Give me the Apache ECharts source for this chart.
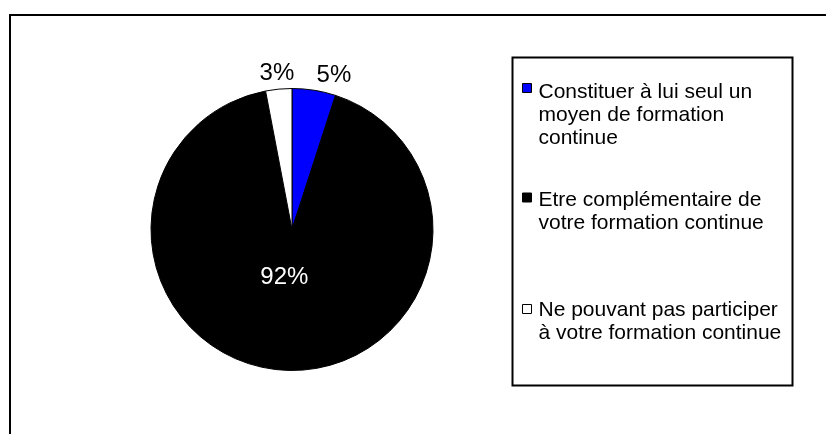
<!DOCTYPE html>
<html lang="fr">
<head>
    <meta charset="UTF-8">
    <title>Formation continue</title>
    <script src="https://cdn.jsdelivr.net/npm/echarts@6/dist/echarts.min.js"></script>
    <style>
        body {
            margin: 0;
            padding: 0;
            background: #fff;
            overflow: hidden;
        }
        #frame {
            position: absolute;
            left: 9px;
            top: 14px;
            width: 830px;
            height: 430px;
            border-left: 2px solid #000;
            border-top: 2px solid #000;
        }
        #chart {
            position: absolute;
            left: 0;
            top: 0;
            width: 826px;
            height: 434px;
        }
    </style>
</head>
<body>
<div id="frame"></div>
<div id="chart"></div>
<script>
    // categories (full names) and the way they break in the legend
    const categories = [
        'Constituer à lui seul un moyen de formation continue',
        'Etre complémentaire de votre formation continue',
        'Ne pouvant pas participer à votre formation continue'
    ]
    const legendLines = [
        ['Constituer à lui seul un', 'moyen de formation', 'continue'],
        ['Etre complémentaire de', 'votre formation continue'],
        ['Ne pouvant pas participer', 'à votre formation continue']
    ]
    // percentages
    const values = [5, 92, 3]
    const colors = ['#0000ff', '#000000', '#ffffff']

    // layout tweaks (pixels)
    const labelShift = [[-5, 1], [-3, -25], [22, 0]]
    const markerY = [88, 197.5, 309]   // centre of each legend marker
    const textDrop = [4.5, 2.5, 1]     // first text line sits this much lower than the marker

    const FONT = "'Liberation Sans', Arial, sans-serif"
    const LINE_H = 23

    function buildLegends() {
        return categories.map(function (name, i) {
            const n = legendLines[i].length
            // legend text is centred on the marker: an invisible spacer line on top
            // pushes the first real line down next to the marker
            const spacer = (n - 1) * LINE_H + 2 * textDrop[i]
            const h = n * LINE_H + spacer
            return {
                orient: 'vertical',
                left: 522,
                top: markerY[i] - h / 2,
                padding: 0,
                itemWidth: 9,
                itemHeight: 9,
                icon: 'rect',
                itemStyle: { borderColor: '#000', borderWidth: 1 },
                selectedMode: false,
                data: [name],
                formatter: function (nm) {
                    const lines = legendLines[categories.indexOf(nm)]
                    return '{s| }\n' + lines.map(function (t) { return '{t|' + t + '}' }).join('\n')
                },
                textStyle: {
                    fontFamily: FONT,
                    fontSize: 21,
                    lineHeight: LINE_H,
                    color: '#000',
                    rich: {
                        s: { fontSize: 2, lineHeight: spacer, height: spacer },
                        t: {
                            fontFamily: FONT,
                            fontSize: 21,
                            lineHeight: LINE_H,
                            padding: [0, 0, 0, 2],
                            color: '#000'
                        }
                    }
                }
            }
        })
    }

    function buildOption() {
        const pieData = categories.map(function (name, i) {
            const inside = i === 1
            return {
                name: name,
                value: values[i],
                itemStyle: { color: colors[i] },
                label: {
                    position: inside ? 'inside' : 'outside',
                    color: inside ? '#fff' : '#000'
                }
            }
        })

        return {
            animation: false,
            backgroundColor: 'transparent',
            graphic: [{
                // legend frame
                type: 'rect',
                z: -1,
                shape: { x: 512.5, y: 57.5, width: 280, height: 328 },
                style: { fill: '#fff', stroke: '#000', lineWidth: 2 }
            }],
            legend: buildLegends(),
            series: [{
                type: 'pie',
                center: [292, 229.5],
                radius: 141,
                startAngle: 90,
                clockwise: true,
                silent: true,
                avoidLabelOverlap: false,
                itemStyle: { borderColor: '#000', borderWidth: 1 },
                label: {
                    show: true,
                    formatter: '{c}%',
                    fontFamily: FONT,
                    fontSize: 24
                },
                labelLine: { show: false, length: 16, length2: 0 },
                labelLayout: function (params) {
                    const s = labelShift[params.dataIndex]
                    return { dx: s[0], dy: s[1] }
                },
                emphasis: { disabled: true },
                data: pieData
            }]
        }
    }

    window.onload = function () {
        window.chart = echarts.init(document.getElementById('chart'))
        window.chart.setOption(buildOption())
    }
</script>
</body>
</html>
